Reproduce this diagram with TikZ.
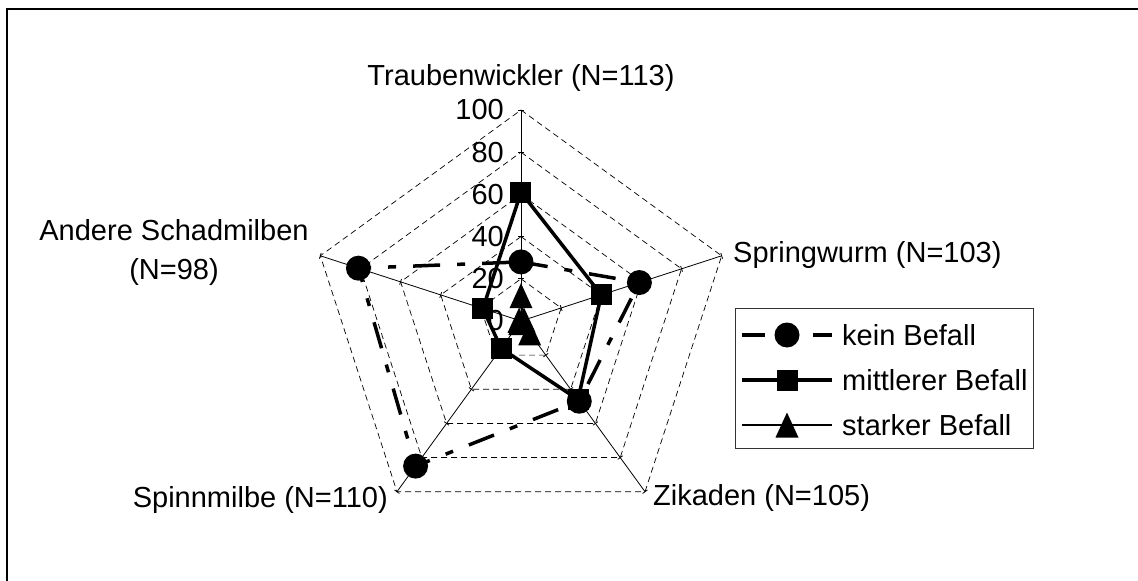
\documentclass[tikz,border=0pt]{standalone}
\usepackage{fontspec}
\setmainfont{Liberation Sans}
\begin{document}
\begin{tikzpicture}[x=1pt,y=1pt,
  lbl/.style={font=\fontsize{29}{39}\selectfont, inner sep=0pt},
  gridline/.style={dash pattern=on 6pt off 4pt, line width=0.7pt},
  axisline/.style={line width=0.8pt},
  keinline/.style={line width=3.5pt, dash pattern=on 27pt off 17pt on 8pt off 17pt},
  mittline/.style={line width=3.5pt},
  starkline/.style={line width=1.1pt},
  dotmark/.style={circle, fill=black, minimum size=25pt, inner sep=0pt},
  sqmark/.style={rectangle, fill=black, minimum size=21pt, inner sep=0pt},
]
\useasboundingbox (-521,-260) rectangle (617,321);
% frame
\coordinate (fa) at (-514,-262);
\coordinate (fb) at (-514,312);
\coordinate (fc) at (620,312);
\draw[line width=2pt] (fa) -- (fb) -- (fc);
% centre and vertices
\coordinate (O) at (0,0);
\foreach \i/\a in {1/90,2/18,3/-54,4/-126,5/162} {
  \coordinate (v\i) at (\a:211);
}
% grid pentagons
\foreach \r in {20,40,60,80,100} {
  \draw[gridline] (90:\r*2.11) -- (18:\r*2.11) -- (-54:\r*2.11) -- (-126:\r*2.11) -- (162:\r*2.11) -- cycle;
}
% axes and ticks
\foreach \i in {1,...,5} { \draw[axisline] (O) -- (v\i); }
\foreach \a in {90,18,-54,-126,162} {
  \foreach \r in {20,40,60,80,100} {
    \draw[axisline, rotate=\a] (\r*2.11,-3) -- (\r*2.11,3);
  }
}
% scale labels
\foreach \v in {0,20,40,60,80,100} {
  \node[lbl, anchor=east] (s\v) at (-17,\v*2.11) {\v};
}
% category labels
\node[lbl] (cT) at (0,243) {Traubenwickler (N=113)};
\node[lbl, anchor=west] (cS) at (212,66) {Springwurm (N=103)};
\node[lbl, anchor=west] (cZ) at (132,-177) {Zikaden (N=105)};
\node[lbl, anchor=east] (cSp) at (-133,-179) {Spinnmilbe (N=110)};
\node[lbl, align=center] (cA) at (-347,68.5) {Andere Schadmilben\\(N=98)};
% series: mittlerer Befall
\foreach \i/\a/\v in {1/90/61,2/18/40,3/-54/46,4/-126/16,5/162/19} {
  \coordinate (m\i) at (\a:\v*2.11);
}
\draw[mittline, line join=miter] (m1) -- (m2) -- (m3) -- (m4) -- (m5) -- cycle;
\foreach \i in {1,...,5} { \node[sqmark] (mm\i) at (m\i) {}; }
% series: kein Befall
\foreach \i/\a/\v in {1/90/28,2/18/59,3/-54/47,4/-126/85,5/162/81} {
  \coordinate (k\i) at (\a:\v*2.11);
}
\draw[keinline] (k1) -- (k2) -- (k3) -- (k4) -- (k5) -- cycle;
\foreach \i in {1,...,5} { \node[dotmark] (kk\i) at (k\i) {}; }
% series: starker Befall
\foreach \i/\a/\v in {1/90/12,2/18/1.5,3/-54/7,4/-126/1,5/162/1} {
  \coordinate (t\i) at (\a:\v*2.11);
}
\draw[starkline] (t1) -- (t2) -- (t3) -- (t4) -- (t5) -- cycle;
\foreach \i in {1,...,5} {
  \fill[shift={(t\i)}] (-11.5,-12.5) -- (11.5,-12.5) -- (0,12.5) -- cycle;
}
% legend
\node[draw=black!80, line width=1pt, minimum width=298pt, minimum height=140pt, inner sep=0pt] (legend) at (363,-57) {};
\coordinate (l1a) at (221,-14); \coordinate (l1b) at (311,-14); \coordinate (l1m) at (266,-14);
\coordinate (l2a) at (221,-59); \coordinate (l2b) at (311,-59); \coordinate (l2m) at (266,-59);
\coordinate (l3a) at (221,-104); \coordinate (l3b) at (311,-104); \coordinate (l3m) at (266,-104);
\draw[line width=3.5pt, dash pattern=on 23pt off 48pt on 19pt off 10pt] (l1a) -- (l1b);
\node[dotmark] (lk) at (l1m) {};
\draw[mittline] (l2a) -- (l2b);
\node[sqmark] (lm) at (l2m) {};
\draw[starkline] (l3a) -- (l3b);
\fill[shift={(l3m)}] (-11.5,-12.5) -- (11.5,-12.5) -- (0,12.5) -- cycle;
\node[lbl, anchor=west] (tk) at (321,-14) {kein Befall};
\node[lbl, anchor=west] (tm) at (321,-59) {mittlerer Befall};
\node[lbl, anchor=west] (ts) at (321,-104) {starker Befall};
\end{tikzpicture}
\end{document}
